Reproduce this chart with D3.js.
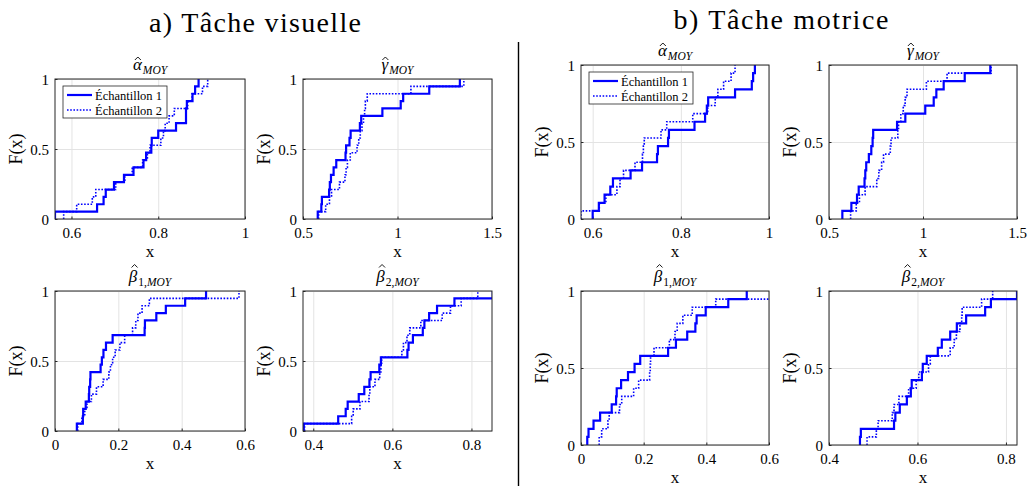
<!DOCTYPE html>
<html><head><meta charset="utf-8">
<script src="https://cdn.jsdelivr.net/npm/d3@7/dist/d3.min.js"></script>
<style>
body{margin:0;background:#fff}
svg{display:block}
text{font-family:"Liberation Serif","Times New Roman",serif;fill:#000}
</style></head>
<body><svg id="chart" width="1028" height="486"></svg>
<script>
// ---------- DATA (sample values read from the empirical CDFs, n = 19) ----------
const groupTitles = ["a) Tâche visuelle", "b) Tâche motrice"];
const seriesNames = ["Échantillon 1", "Échantillon 2"];
const yTicks = [0, 0.5, 1];

// a) Tâche visuelle
const visAlpha1 = [0.562,0.659,0.674,0.679,0.698,0.721,0.743,0.766,0.772,0.784,0.785,0.800,0.841,0.864,0.864,0.866,0.879,0.885,0.893];
const visAlpha2 = [0.582,0.612,0.648,0.656,0.702,0.723,0.740,0.764,0.775,0.781,0.806,0.812,0.816,0.825,0.837,0.868,0.878,0.902,0.914];
const visGamma1 = [0.578,0.597,0.600,0.638,0.642,0.648,0.662,0.676,0.725,0.728,0.746,0.752,0.801,0.808,0.920,1.017,1.030,1.168,1.330];
const visGamma2 = [0.583,0.620,0.640,0.651,0.693,0.722,0.728,0.735,0.750,0.786,0.795,0.803,0.812,0.820,0.826,0.830,0.840,1.071,1.351];
const visBeta11 = [0.069,0.088,0.089,0.097,0.107,0.108,0.111,0.112,0.144,0.148,0.153,0.161,0.182,0.283,0.284,0.320,0.350,0.411,0.477];
const visBeta12 = [0.072,0.085,0.094,0.101,0.115,0.131,0.152,0.170,0.175,0.182,0.190,0.205,0.220,0.245,0.255,0.262,0.275,0.298,0.581];
const visBeta21 = [0.376,0.463,0.482,0.487,0.515,0.529,0.542,0.545,0.567,0.571,0.638,0.641,0.652,0.677,0.681,0.693,0.713,0.757,0.854];
const visBeta22 = [0.378,0.497,0.501,0.518,0.541,0.543,0.556,0.568,0.571,0.573,0.624,0.628,0.637,0.644,0.672,0.726,0.747,0.774,0.816];

// b) Tâche motrice
const motAlpha1 = [0.600,0.614,0.627,0.640,0.646,0.686,0.712,0.746,0.748,0.771,0.773,0.831,0.855,0.859,0.862,0.923,0.961,0.964,0.968];
const motAlpha2 = [0.5735,0.615,0.630,0.655,0.662,0.670,0.696,0.713,0.715,0.717,0.755,0.768,0.827,0.861,0.878,0.884,0.897,0.914,0.923];
const motGamma1 = [0.571,0.619,0.649,0.658,0.689,0.693,0.698,0.712,0.725,0.732,0.735,0.862,0.906,1.012,1.057,1.071,1.110,1.222,1.358];
const motGamma2 = [0.615,0.645,0.662,0.692,0.754,0.765,0.780,0.790,0.826,0.830,0.866,0.870,0.882,0.895,0.905,0.915,1.018,1.128,1.362];
const motBeta11 = [0.020,0.024,0.040,0.061,0.098,0.112,0.114,0.128,0.150,0.171,0.189,0.278,0.303,0.339,0.365,0.369,0.398,0.470,0.529];
const motBeta12 = [0.058,0.066,0.086,0.090,0.123,0.130,0.168,0.184,0.219,0.221,0.222,0.233,0.282,0.300,0.307,0.325,0.355,0.430,0.610];
const motBeta21 = [0.470,0.472,0.547,0.550,0.560,0.576,0.585,0.587,0.610,0.612,0.621,0.646,0.655,0.674,0.689,0.710,0.753,0.766,0.825];
const motBeta22 = [0.486,0.507,0.511,0.543,0.547,0.558,0.580,0.597,0.603,0.625,0.629,0.674,0.683,0.688,0.696,0.700,0.701,0.745,0.770];

// axis limits and tick labels
const visAlphaLim = [0.562, 1],   visAlphaTicks = [0.6, 0.8, 1];
const visGammaLim = [0.5, 1.5],   visGammaTicks = [0.5, 1, 1.5];
const visBeta1Lim = [0, 0.6],     visBeta1Ticks = [0, 0.2, 0.4, 0.6];
const visBeta2Lim = [0.374, 0.852], visBeta2Ticks = [0.4, 0.6, 0.8];
const motAlphaLim = [0.5735, 1],  motAlphaTicks = [0.6, 0.8, 1];
const motGammaLim = [0.5, 1.5],   motGammaTicks = [0.5, 1, 1.5];
const motBeta1Lim = [0, 0.6],     motBeta1Ticks = [0, 0.2, 0.4, 0.6];
const motBeta2Lim = [0.4, 0.825], motBeta2Ticks = [0.4, 0.6, 0.8];

// title parts: [symbol (with hat), upright subscript prefix, italic subscript]
const symAlpha = ["\u03B1", "", "MOY"];
const symGamma = ["\u03B3", "", "MOY"];
const symBeta1 = ["\u03B2", "1,", "MOY"];
const symBeta2 = ["\u03B2", "2,", "MOY"];

// ---------- LAYOUT ----------
const layout = {
  visTop: {y0: 79, y1: 219}, visBot: {y0: 291, y1: 431},
  motTop: {y0: 65, y1: 219}, motBot: {y0: 291, y1: 445},
  colA: {x0: 55, x1: 245}, colB: {x0: 303, x1: 492},
  colC: {x0: 581, x1: 769}, colD: {x0: 829, x1: 1017}
};

const panels = [
  {s1: visAlpha1, s2: visAlpha2, lim: visAlphaLim, ticks: visAlphaTicks, sym: symAlpha, col: layout.colA, row: layout.visTop, legend: true},
  {s1: visGamma1, s2: visGamma2, lim: visGammaLim, ticks: visGammaTicks, sym: symGamma, col: layout.colB, row: layout.visTop},
  {s1: visBeta11, s2: visBeta12, lim: visBeta1Lim, ticks: visBeta1Ticks, sym: symBeta1, col: layout.colA, row: layout.visBot},
  {s1: visBeta21, s2: visBeta22, lim: visBeta2Lim, ticks: visBeta2Ticks, sym: symBeta2, col: layout.colB, row: layout.visBot},
  {s1: motAlpha1, s2: motAlpha2, lim: motAlphaLim, ticks: motAlphaTicks, sym: symAlpha, col: layout.colC, row: layout.motTop, legend: true},
  {s1: motGamma1, s2: motGamma2, lim: motGammaLim, ticks: motGammaTicks, sym: symGamma, col: layout.colD, row: layout.motTop},
  {s1: motBeta11, s2: motBeta12, lim: motBeta1Lim, ticks: motBeta1Ticks, sym: symBeta1, col: layout.colC, row: layout.motBot},
  {s1: motBeta21, s2: motBeta22, lim: motBeta2Lim, ticks: motBeta2Ticks, sym: symBeta2, col: layout.colD, row: layout.motBot}
];

const svg = d3.select("#chart");
const BLUE = "#0000ff", BOX = "#262626", GRID = "#e3e3e3";

// group titles
svg.append("text").attr("x", 255).attr("y", 32).attr("text-anchor", "middle")
  .attr("font-size", 28).attr("textLength", 212).attr("lengthAdjust", "spacing").text(groupTitles[0]);
svg.append("text").attr("x", 781).attr("y", 29).attr("text-anchor", "middle")
  .attr("font-size", 28).attr("textLength", 215).attr("lengthAdjust", "spacing").text(groupTitles[1]);
// separator
svg.append("line").attr("x1", 518.5).attr("x2", 518.5).attr("y1", 42).attr("y2", 486)
  .attr("stroke", "#000").attr("stroke-width", 1.4);

function ecdfPoints(vals) {
  const s = vals.slice().sort(d3.ascending), n = s.length;
  const pts = [[s[0], 0]];
  s.forEach((v, i) => pts.push([v, (i + 1) / n]));
  return pts;
}
const fmt = d => String(+d.toFixed(2));
const FONT = '"Liberation Serif",serif';

panels.forEach((p, idx) => {
  const {x0, x1} = p.col, {y0, y1} = p.row;
  const x = d3.scaleLinear().domain(p.lim).range([x0, x1]);
  const y = d3.scaleLinear().domain([0, 1]).range([y1, y0]);
  const g = svg.append("g");
  const clipId = "clip" + idx;
  g.append("clipPath").attr("id", clipId).append("rect")
    .attr("x", x0).attr("y", y0).attr("width", x1 - x0).attr("height", y1 - y0);

  g.append("rect").attr("x", x0).attr("y", y0).attr("width", x1 - x0).attr("height", y1 - y0).attr("fill", "#fff");

  // grid
  const gx = g.append("g").attr("transform", `translate(0,${y1})`)
    .call(d3.axisBottom(x).tickValues(p.ticks).tickSize(-(y1 - y0)).tickFormat(""));
  gx.select(".domain").remove();
  gx.selectAll("line").attr("stroke", GRID).attr("stroke-width", 1);
  const gy = g.append("g").attr("transform", `translate(${x0},0)`)
    .call(d3.axisLeft(y).tickValues(yTicks).tickSize(-(x1 - x0)).tickFormat(""));
  gy.select(".domain").remove();
  gy.selectAll("line").attr("stroke", GRID).attr("stroke-width", 1);

  // inward ticks with labels
  const ax = g.append("g").attr("transform", `translate(0,${y1})`)
    .call(d3.axisBottom(x).tickValues(p.ticks).tickSize(-2.5).tickPadding(5).tickFormat(fmt));
  ax.select(".domain").remove();
  ax.selectAll("line").attr("stroke", BOX);
  ax.selectAll("text").attr("font-size", 15).attr("font-family", FONT).attr("fill", "#000").attr("dy", "0.95em");
  const ay = g.append("g").attr("transform", `translate(${x0},0)`)
    .call(d3.axisLeft(y).tickValues(yTicks).tickSize(-2.5).tickPadding(6).tickFormat(fmt));
  ay.select(".domain").remove();
  ay.selectAll("line").attr("stroke", BOX);
  ay.selectAll("text").attr("font-size", 15).attr("font-family", FONT).attr("fill", "#000").attr("dy", "0.35em");

  // ECDF lines
  const line = d3.line().x(d => x(d[0])).y(d => y(d[1])).curve(d3.curveStepAfter);
  const lg = g.append("g").attr("clip-path", `url(#${clipId})`);
  lg.append("path").attr("d", line(ecdfPoints(p.s1))).attr("fill", "none")
    .attr("stroke", BLUE).attr("stroke-width", 2.2);
  lg.append("path").attr("d", line(ecdfPoints(p.s2))).attr("fill", "none")
    .attr("stroke", BLUE).attr("stroke-width", 1.6).attr("stroke-dasharray", "1.6,1.6");

  // box
  g.append("rect").attr("x", x0).attr("y", y0).attr("width", x1 - x0).attr("height", y1 - y0)
    .attr("fill", "none").attr("stroke", BOX).attr("stroke-width", 1);

  // axis labels
  g.append("text").attr("x", (x0 + x1) / 2).attr("y", y1 + 38).attr("text-anchor", "middle")
    .attr("font-size", 17).text("x");
  g.append("text").attr("transform", `translate(${x0 - 33},${(y0 + y1) / 2}) rotate(-90)`)
    .attr("text-anchor", "middle").attr("font-size", 18).text("F(x)");

  // subplot title: symbol, hat (drawn as a small caret path), subscript
  const ty = y0 - 9;
  const t = g.append("text").attr("x", (x0 + x1) / 2).attr("y", ty).attr("text-anchor", "middle").attr("font-size", 17);
  t.append("tspan").attr("font-style", "italic").text(p.sym[0]);
  const sub = t.append("tspan").attr("dy", 4).attr("font-size", 11.5);
  if (p.sym[1]) sub.append("tspan").attr("dx", 1).text(p.sym[1]);
  sub.append("tspan").attr("font-style", "italic").attr("dx", p.sym[1] ? 0 : 1).text(p.sym[2]);
  const ext = t.node().getExtentOfChar(0);
  const tall = p.sym[0] === "\u03B2";
  const hx = ext.x + ext.width / 2 + (tall ? 1.5 : 0.5);
  const hb = ty - (tall ? 14.5 : 10);
  g.append("path").attr("d", `M${hx - 3},${hb} L${hx},${hb - 3} L${hx + 3},${hb}`)
    .attr("fill", "none").attr("stroke", "#000").attr("stroke-width", 0.9);

  // legend
  if (p.legend) {
    const lx = x0 + 8, ly = y0 + 7, lw = 104, lh = 32;
    const L = g.append("g");
    L.append("rect").attr("x", lx).attr("y", ly).attr("width", lw).attr("height", lh)
      .attr("fill", "#fff").attr("stroke", BOX).attr("stroke-width", 0.8);
    const rows = [ly + 9, ly + 24];
    L.append("line").attr("x1", lx + 4).attr("x2", lx + 29).attr("y1", rows[0]).attr("y2", rows[0])
      .attr("stroke", BLUE).attr("stroke-width", 2.2);
    L.append("line").attr("x1", lx + 4).attr("x2", lx + 29).attr("y1", rows[1]).attr("y2", rows[1])
      .attr("stroke", BLUE).attr("stroke-width", 1.6).attr("stroke-dasharray", "1.6,1.6");
    seriesNames.forEach((nm, i) => {
      L.append("text").attr("x", lx + 32).attr("y", rows[i] + 4.5).attr("font-size", 12.5).text(nm);
    });
  }
});
</script>
</body></html>
